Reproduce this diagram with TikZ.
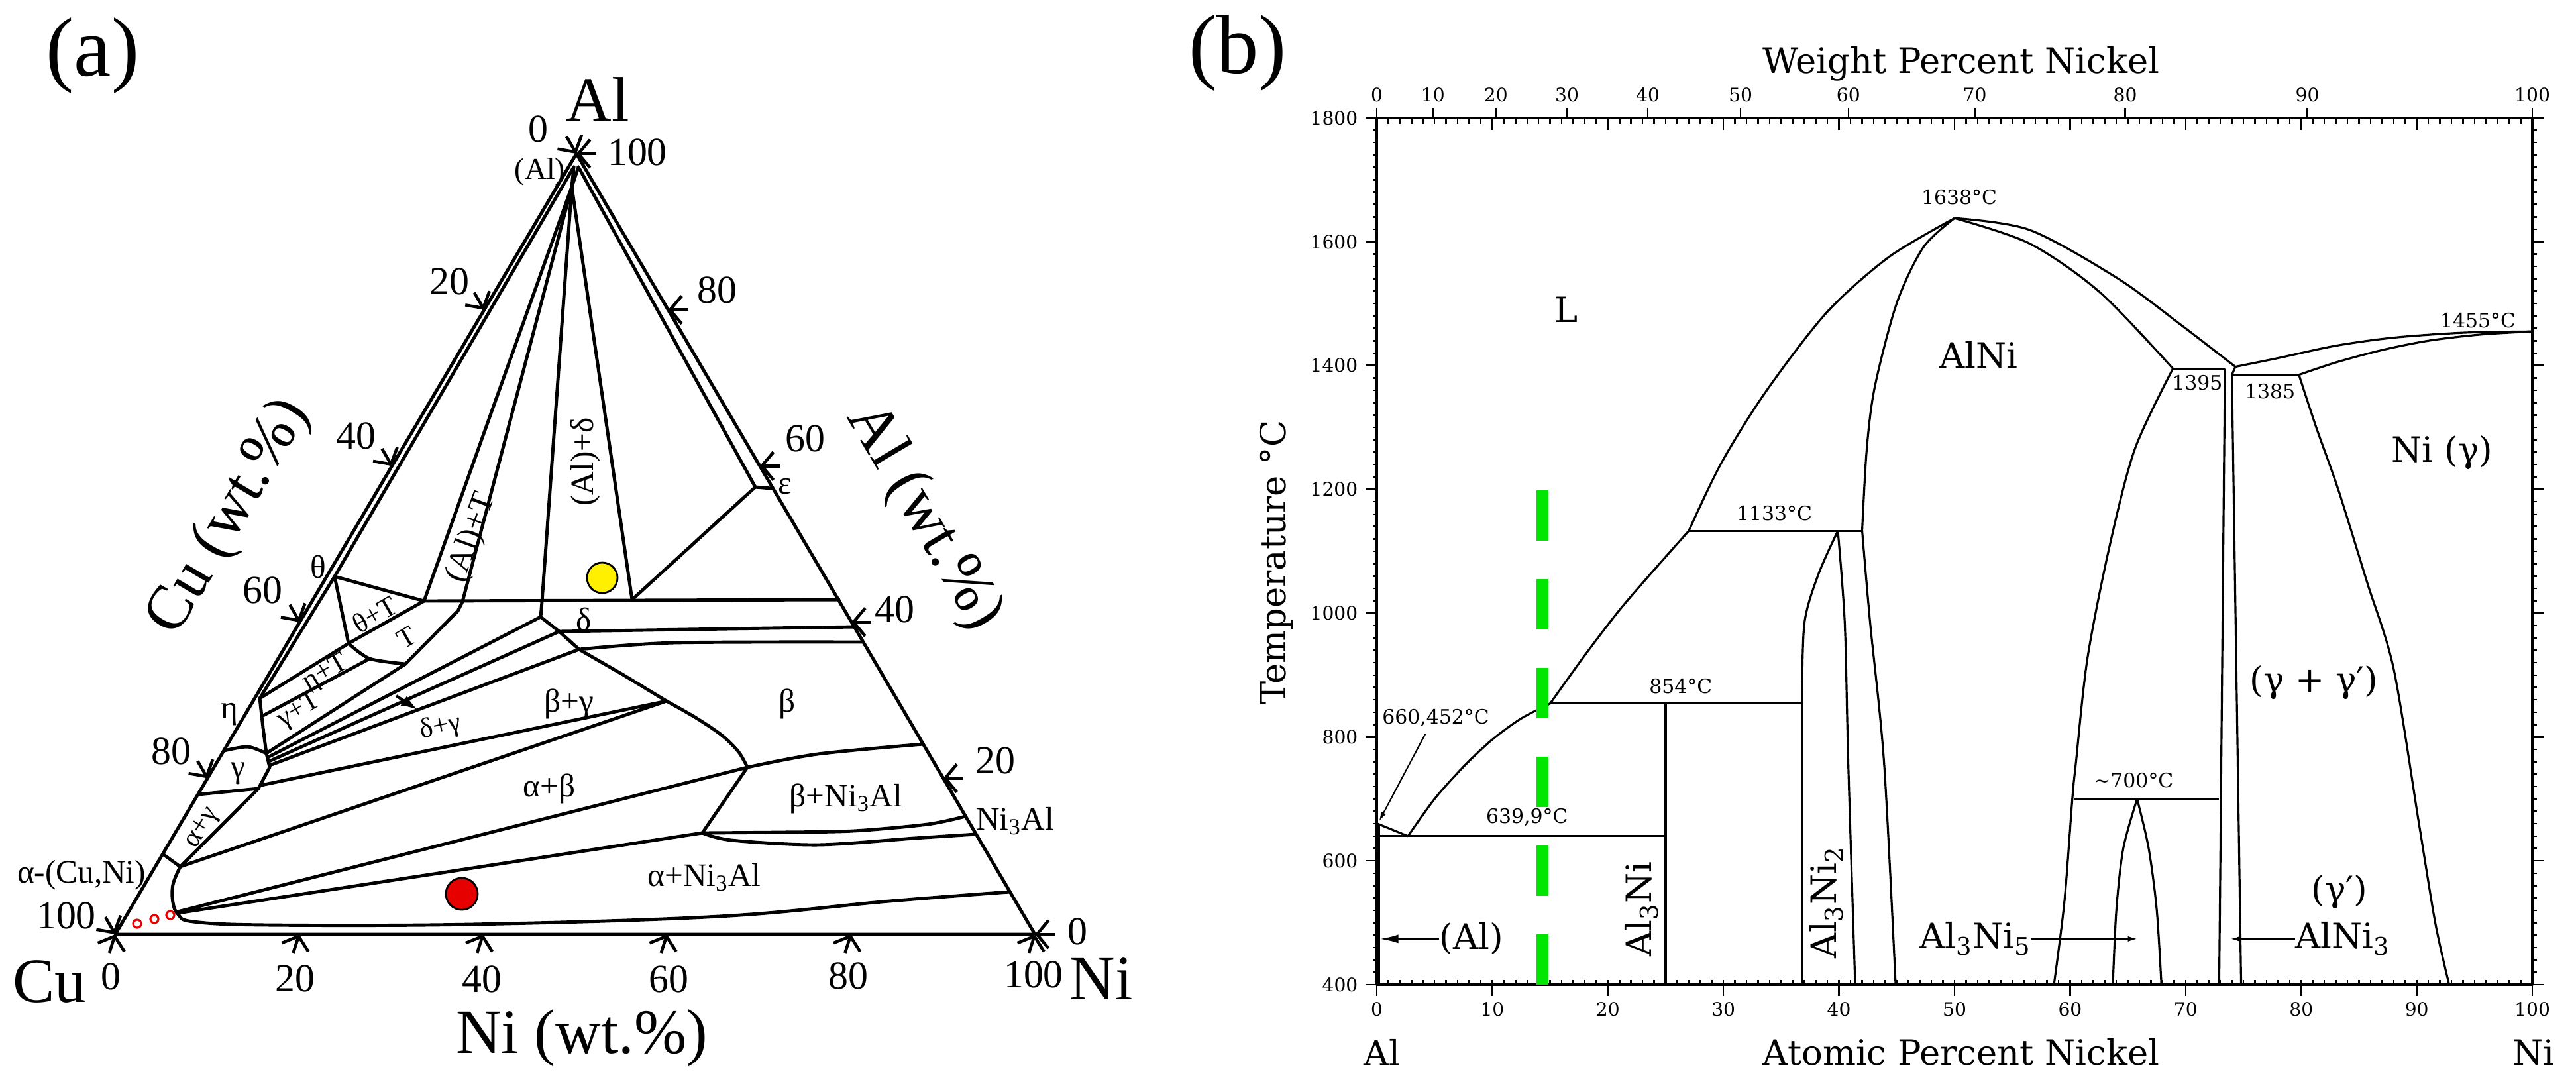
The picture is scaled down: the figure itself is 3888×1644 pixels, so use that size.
\documentclass[tikz,border=0pt]{standalone}
\usepackage{fontspec}
\setmainfont{Liberation Serif}
\newfontfamily\fb{DejaVu Serif}
\usetikzlibrary{arrows.meta,calc}
\definecolor{dotred}{RGB}{230,0,0}
\definecolor{dotyel}{RGB}{255,240,0}
\definecolor{dashgreen}{RGB}{0,230,0}
\begin{document}
\begin{tikzpicture}[x=0.01cm,y=-0.01cm,
  aline/.style={line width=1.4pt,line join=round,line cap=round},
  bline/.style={line width=0.9pt,line join=round},
  btick/.style={line width=0.7pt},
  atick/.style={line width=1.3pt,-{Straight Barb[length=5pt,width=12pt]}},
  tP/.style={font=\fontsize{36}{40}\selectfont,inner sep=0pt},
  tA/.style={font=\fontsize{27}{30}\selectfont,inner sep=0pt},
  tN/.style={font=\fontsize{17}{20}\selectfont,inner sep=0pt},
  tL/.style={font=\fontsize{14}{16}\selectfont,inner sep=0pt},
  tS/.style={font=\fontsize{12}{14}\selectfont,inner sep=0pt},
  bT/.style={font=\fb\fontsize{8}{9}\selectfont,inner sep=0pt},
  bS/.style={font=\fb\fontsize{8.5}{10}\selectfont,inner sep=0pt},
  bL/.style={font=\fb\fontsize{15}{17}\selectfont,inner sep=0pt},
  bX/.style={font=\fb\fontsize{15}{17}\selectfont,inner sep=0pt},
]
\path[use as bounding box,fill=white] (0,0) rectangle (3888,1644);

% ================= panel (a) =================
\node[tP] (pa) at (140,84) {(a)};
\coordinate (Cu) at (174,1410);
\coordinate (Ni) at (1562,1410);
\coordinate (AlV) at (870,232);
\coordinate (AP) at (863,282);
\coordinate (IL) at (866,252);
\coordinate (IR) at (873,252);
\coordinate (th) at (505,870);
\coordinate (eta) at (392,1054);
\coordinate (tT) at (640,907);
\coordinate (tTb) at (526,971);
\coordinate (Tr) at (698,908);
\coordinate (Tb) at (612,1002);
\coordinate (Dl) at (818,908);
\coordinate (Dc) at (816,931);
\coordinate (Dr) at (954,905);
\coordinate (eps) at (1140,735);
\coordinate (Bg) at (1006,1058);
\coordinate (Bn) at (1128,1158);
\coordinate (Nn) at (1060,1257);

\draw[aline] (Cu) -- (Ni) -- (AlV) -- cycle;
% inner double lines and fan from (Al)
\draw[aline] (IL) -- (th) -- (eta);
\draw[aline] (IR) -- (eps) -- (1164,737);
\draw[aline] (IL) -- (AP) -- (IR);
\draw[aline] (eps) -- (Dr);
\draw[aline] (AP) -- (tT);
\draw[aline] (AP) -- (Tr) -- (691,922) -- (Tb);
\draw[aline] (AP) -- (Dl) -- (Dc);
\draw[aline] (AP) -- (Dr);
\draw[aline] (tT) -- (1266,905);
% theta, eta, T
\draw[aline] (th) -- (tT) -- (tTb) -- cycle;
\draw[aline] (eta) -- (tTb);
\draw[aline] plot[smooth] coordinates {(526,971) (558,994) (612,1002)};
\draw[aline] (397,1080) -- (558,994);
\draw[aline] plot[smooth] coordinates {(392,1054) (397,1098) (402,1137)};
\draw[aline] plot[smooth] coordinates {(338,1133) (374,1127) (402,1137)};
\draw[aline] (402,1137) -- (407,1158) -- (390,1190);
\draw[aline] (299,1199) -- (390,1190);
\draw[aline] (246,1289) -- (272,1308);
\draw[aline] (390,1190) -- (272,1308);
% alpha boundary
\draw[aline] plot[smooth,tension=0.6] coordinates {(272,1308) (261,1335) (261,1362) (269,1380) (292,1391) (405,1396) (711,1395) (1085,1383) (1342,1360) (1524,1346)};
% gamma fan
\draw[aline] (402,1137) -- (Tb);
\draw[aline] (404,1143) -- (Dc);
\draw[aline] (406,1149) -- (844,953);
\draw[aline] (407,1155) -- (874,980);
\draw[aline] (394,1185) -- (Bg);
% alpha fan
\draw[aline] (272,1308) -- (Bg);
\draw[aline] (268,1376) -- (Bn);
\draw[aline] (268,1378) -- (Nn);
% delta band
\draw[aline] (844,953) -- (1289,946);
\draw[aline] plot[smooth] coordinates {(874,980) (1017,970) (1302,969)};
\draw[aline] (Dc) -- (844,953) -- (874,980) -- (940,1018) -- (Bg);
% beta
\draw[aline] plot[smooth] coordinates {(1006,1058) (1050,1083) (1090,1110) (1115,1135) (1128,1158)};
\draw[aline] plot[smooth] coordinates {(1128,1158) (1234,1138) (1393,1123)};
\draw[aline] (Bn) -- (Nn);
\draw[aline] plot[smooth] coordinates {(1060,1257) (1180,1256) (1288,1254) (1400,1244) (1457,1232)};
\draw[aline] plot[smooth] coordinates {(1060,1257) (1104,1268) (1234,1275) (1380,1265) (1473,1259)};
% delta+gamma arrow
\draw[line width=1.2pt,-{Latex[length=7pt,width=5pt]}] (598,1050) -- (630,1071);

% edge ticks
\foreach \v in {0,20,40,60,80,100} {
  \coordinate (tl\v) at ($(AlV)!\v/100!(Cu)$);
  \draw[atick] ($(tl\v)+(-15,-26)$) -- (tl\v);
  \coordinate (tr\v) at ($(Ni)!\v/100!(AlV)$);
  \draw[atick] ($(tr\v)+(30,0)$) -- (tr\v);
  \coordinate (tb\v) at ($(Cu)!\v/100!(Ni)$);
  \draw[atick] ($(tb\v)+(-9,28)$) -- (tb\v);
}

% dots
\draw[fill=dotyel,line width=0.8pt] (909,872) circle[radius=0.23cm];
\draw[fill=dotred,line width=0.8pt] (697,1349) circle[radius=0.24cm];
\foreach \p/\q in {207/1394,233/1387,257/1381} \draw[dotred,line width=0.9pt] (\p,\q) circle[radius=0.06cm];

% labels (a)
\node[tA] (lAl) at (902,150) {Al};
\node[tA] (lCu) at (75,1481) {Cu};
\node[tA] (lNi) at (1662,1477) {Ni};
\node[tN] (n0a) at (812,195) {0};
\node[tN] (n100a) at (962,230) {100};
\node[font=\fontsize{13}{15}\selectfont,inner sep=0pt] (alpt) at (815,259) {(Al)};
\node[tN] (cl20) at (678,425) {20};
\node[tN] (cl40) at (537,658) {40};
\node[tN] (cl60) at (396,891) {60};
\node[tN] (cl80) at (258,1134) {80};
\node[tN] (cl100) at (100,1382) {100};
\node[tN] (ar80) at (1082,438) {80};
\node[tN] (ar60) at (1215,662) {60};
\node[tN] (ar40) at (1350,920) {40};
\node[tN] (ar20) at (1502,1148) {20};
\node[tN] (ar0) at (1626,1406) {0};
\node[tN] (nb0) at (167,1474) {0};
\node[tN] (nb20) at (445,1477) {20};
\node[tN] (nb40) at (727,1478) {40};
\node[tN] (nb60) at (1009,1478) {60};
\node[tN] (nb80) at (1280,1473) {80};
\node[tN] (nb100) at (1560,1471) {100};
\node[tA] (axNi) at (878,1567) {Ni (wt.\%)};
\node[tA,rotate=59.4] (axCu) at (347,781) {Cu (wt.\%)};
\node[tA,rotate=-59.4] (axAl) at (1394,781) {Al (wt.\%)};
\node[tL] (acuni) at (123,1321) {α-(Cu,Ni)};
\node[tL] (lth) at (480,856) {θ};
\node[tL] (leta) at (346,1078) {η};
\node[tL] (lgam) at (359,1167) {γ};
\node[tS,rotate=58] (lag) at (306,1250) {α+γ};
\node[tS,rotate=30] (lthT) at (565,927) {θ+T};
\node[tS,rotate=30] (lT) at (614,962) {T};
\node[tS,rotate=30] (letT) at (492,1016) {η+T};
\node[tS,rotate=30] (lgT) at (452,1073) {γ+T};
\node[tS,rotate=12] (ldg) at (665,1098) {δ+γ};
\node[tL] (lbg) at (859,1062) {β+γ};
\node[tL] (lab) at (829,1190) {α+β};
\node[tL] (lb) at (1188,1062) {β};
\node[tL] (lbN) at (1277,1205) {β+Ni\textsubscript{3}Al};
\node[tL] (laN) at (1063,1324) {α+Ni\textsubscript{3}Al};
\node[tL] (lN) at (1532,1239) {Ni\textsubscript{3}Al};
\node[tL] (ld) at (881,935) {δ};
\node[tL] (le) at (1185,734) {ε};
\node[tL,rotate=90] (lAd) at (884,697) {(Al)+δ};
\node[tL,rotate=70] (lAT) at (712,812) {(Al)+T};

% ================= panel (b) =================
\node[font=\fontsize{36}{40}\selectfont,inner sep=0pt] (pb) at (1868,80) {(b)};
\node[bX] (tw) at (2960,96) {Weight Percent Nickel};
\node[bX] (ta) at (2960,1588) {Atomic Percent Nickel};
\node[bX] (tAl) at (2086,1588) {Al};
\node[bX] (tNi) at (3824,1588) {Ni};
\node[bX,rotate=90] (tT) at (1926,849) {Temperature °C};

\begin{scope}[shift={(2078,1486)},x=0.1743cm,y=0.009343cm,shift={(0,-400)}]
\draw[bline] (0,400) rectangle (100,1800);
\foreach \i in {0,...,100} {
  \draw[btick] (\i,400) -- ++(0,0.07cm);
  \draw[btick] (\i,1800) -- ++(0,-0.09cm);
}
\foreach \i in {0,10,...,100} {
  \draw[btick] (\i,400) -- ++(0,-0.17cm);
  \draw[btick] (\i,1800) -- ++(0,-0.18cm);
  \node[bT,anchor=north,yshift=-0.26cm] (bx\i) at (\i,400) {\i};
}
\foreach \tv in {400,420,...,1800} {
  \draw[btick] (0,\tv) -- ++(-0.06cm,0);
  \draw[btick] (100,\tv) -- ++(0.07cm,0);
}
\foreach \tv in {400,600,...,1800} {
  \draw[btick] (0,\tv) -- ++(-0.17cm,0);
  \draw[btick] (100,\tv) -- ++(0.18cm,0);
  \node[bT,anchor=east,xshift=-0.28cm] (by\tv) at (0,\tv) {\tv};
}
\foreach \a/\w in {0/0,4.86/10,10.31/20,16.46/30,23.46/40,31.49/50,40.81/60,51.75/70,64.77/80,80.53/90,100/100} {
  \draw[btick] (\a,1800) -- ++(0,0.15cm);
  \node[bT,anchor=south,yshift=0.23cm] (bw\w) at (\a,1800) {\w};
}
% (Al) solvus
\draw[line width=1.8pt] (0.1,400) -- (0.1,660);
% Al-rich liquidus
\draw[bline] (0,660.452) -- (2.7,639.9);
\draw[bline] plot[smooth] coordinates {(2.7,639.9) (5,700) (7.5,752) (10,796) (12.5,830) (15,854)};
\draw[bline] plot[smooth] coordinates {(15,854) (18,932) (21,1005) (24,1070) (27,1133)};
\draw[bline] plot[smooth] coordinates {(27,1133) (29.8,1242) (33.6,1356) (38.9,1485) (44.3,1575) (50,1638)};
\draw[bline] plot[smooth] coordinates {(50,1638) (56.5,1619) (64.1,1541) (69.5,1467) (74.3,1398)};
% AlNi
\draw[bline] plot[smooth] coordinates {(50,1638) (56.5,1597) (62.6,1518) (68.9,1395)};
\draw[bline] plot[smooth] coordinates {(42,1133) (42.4,1265) (43.1,1366) (45,1501) (47.3,1591) (50,1638)};
\draw[bline] plot[smooth] coordinates {(42,1133) (42.7,983) (43.9,758) (44.9,400)};
\draw[bline] plot[smooth] coordinates {(68.9,1395) (65.6,1265) (63.4,1107) (61.5,927) (60.5,758) (60.2,702) (59.5,533) (58.6,400)};
% horizontals
\draw[bline] (0,639.9) -- (25,639.9);
\draw[bline] (15,854) -- (36.8,854);
\draw[bline] (27,1133) -- (42,1133);
\draw[bline] (68.9,1395) -- (73.4,1395);
\draw[bline] (74.0,1385) -- (79.8,1385);
\draw[bline] (60.3,700) -- (72.9,700);
% Al3Ni, Al3Ni2
\draw[bline] (25,400) -- (25,854);
\draw[bline] (36.8,400) -- (36.8,854);
\draw[bline] plot[smooth] coordinates {(36.8,854) (37.0,983) (38.2,1062) (39.9,1133)};
\draw[bline] plot[smooth] coordinates {(39.9,1133) (40.5,983) (40.8,758) (41.4,400)};
% AlNi3
\draw[bline] (73.4,1395) -- (72.9,400);
\draw[bline] (74.3,1398) -- (74.0,1385) -- (74.8,400);
% Ni side
\draw[bline] plot[smooth] coordinates {(74.3,1398) (78,1412) (83,1432) (88,1445) (94,1453) (100,1455)};
\draw[bline] plot[smooth] coordinates {(79.8,1385) (83,1405) (87,1425) (91,1440) (95.5,1450) (100,1455)};
\draw[bline] plot[smooth] coordinates {(79.8,1385) (81.3,1300) (83.2,1200) (85.7,1050) (88,910) (90.2,659) (91.6,500) (92.8,400)};
% Al3Ni5
\draw[bline] plot[smooth] coordinates {(63.7,400) (64.0,520) (64.6,620) (65.8,700)};
\draw[bline] plot[smooth] coordinates {(65.8,700) (66.8,620) (67.5,520) (67.9,400)};
% green dashed line
\draw[dashgreen,line width=5.1pt,dash pattern=on 21.6pt off 16.5pt] (14.35,400) -- (14.35,1200);
% labels
\node[bL] (bLq) at (16.4,1490) {L};
\node[bL] (bAlNi) at (52.1,1417) {AlNi};
\node[bS] (b1638) at (50.4,1672) {1638°C};
\node[bS] (b1133) at (34.4,1161) {1133°C};
\node[bS] (b854) at (26.3,882) {854°C};
\node[bS] (b660) at (5.1,831) {660,452°C};
\node[bS] (b639) at (13.0,670) {639,9°C};
\node[bS] (b1395) at (71.0,1372) {1395};
\node[bS] (b1385) at (77.3,1358) {1385};
\node[bS] (b1455) at (95.3,1473) {1455°C};
\node[bS] (b700) at (65.5,730) {\textasciitilde 700°C};
\node[bL] (bNig) at (92.2,1259) {Ni (γ)};
\node[bL] (bgg) at (81.1,888) {(γ + γ′)};
\node[bL] (bgp) at (83.3,550) {(γ′)};
\node[bL,rotate=90] (bAl3Ni) at (22.9,522) {Al\textsubscript{3}Ni};
\node[bL,rotate=90] (bAl3Ni2) at (38.9,533) {Al\textsubscript{3}Ni\textsubscript{2}};
\node[bL] (bAlss) at (8.2,474) {(Al)};
\node[bL] (bAl3Ni5) at (51.8,474) {Al\textsubscript{3}Ni\textsubscript{5}};
\node[bL] (bAlNi3) at (83.6,474) {AlNi\textsubscript{3}};
\coordinate (aAl) at (0.25,474);
\coordinate (aA35) at (65.8,474);
\coordinate (aA13) at (73.9,474);
\coordinate (a660) at (0.2,664);
\coordinate (a660s) at (4.2,805);
\draw[bline,-{Latex[length=8pt,width=3.7pt]}] (bAlss.west) -- (bAlss.west -| aAl);
\draw[line width=0.6pt,-{Latex[length=4pt,width=2.4pt]}] (bAl3Ni5.east) -- (bAl3Ni5.east -| aA35);
\draw[line width=0.6pt,-{Latex[length=4pt,width=2.4pt]}] (bAlNi3.west) -- (bAlNi3.west -| aA13);
\draw[line width=0.6pt,-{Latex[length=4pt,width=2.4pt]}] (a660s) -- (a660);
\end{scope}
\end{tikzpicture}
\end{document}
